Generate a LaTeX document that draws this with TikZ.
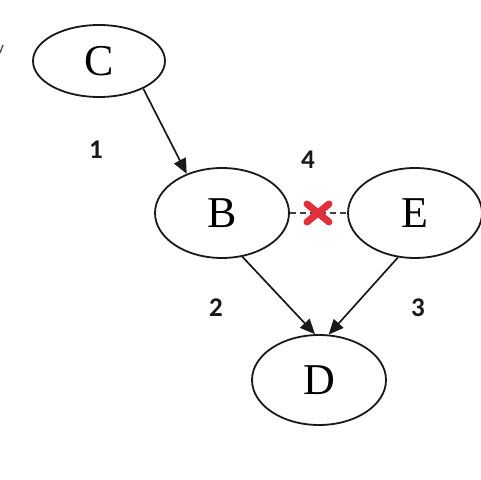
\documentclass[tikz,border=0pt]{standalone}
\usepackage{fontspec}
\setmainfont{Liberation Serif}
\newfontfamily\numfont{Carlito}
\usetikzlibrary{shapes.geometric,arrows.meta}
\definecolor{crossred}{HTML}{E0303C}
\begin{document}
\begin{tikzpicture}[x=1pt,y=1pt,
  state/.style={ellipse,draw=black!90,line width=1.8pt,inner sep=0pt,
    minimum width=134pt,minimum height=90pt,font=\fontsize{44}{44}\selectfont},
  link/.style={line width=1.7pt,draw=black!90,-{Triangle[length=15pt,width=13pt]}},
  num/.style={font=\numfont\bfseries\fontsize{27}{27}\selectfont,text=black!90}]
\useasboundingbox (0,0) rectangle (481,479);
\fill[white] (0,0) rectangle (481,479);

% states
\node[state,minimum width=132pt,minimum height=72pt] (C) at (99,418) {C};
\node[state] (B) at (222,266) {B};
\node[state] (E) at (415,266) {E};
\node[state] (D) at (319,99) {D};

% stray stroke at the left edge
\coordinate (s1) at (0,426);
\coordinate (s2) at (3,434);
\draw[line width=1.4pt,black!70] (s1) -- (s2);

% directed links
\draw[link] (C.-32) -- (B.132);
\draw[link] (B.-65) -- (D.95);
\draw[link] (E.-111) -- (D.78);

% removed link
\draw[line width=1.3pt,black!75,dash pattern=on 6pt off 4pt] (B.east) -- (E.west);
\coordinate (X) at (318,266);
\draw[crossred,line width=7pt,line cap=round] ([shift={(-11,-9)}]X) -- ([shift={(11,9)}]X);
\draw[crossred,line width=7pt,line cap=round] ([shift={(-11,9)}]X) -- ([shift={(11,-9)}]X);

% labels
\node[num] (n1) at (96,329) {1};
\node[num] (n4) at (308,319) {4};
\node[num] (n2) at (216,171) {2};
\node[num] (n3) at (418,171) {3};
\end{tikzpicture}
\end{document}
